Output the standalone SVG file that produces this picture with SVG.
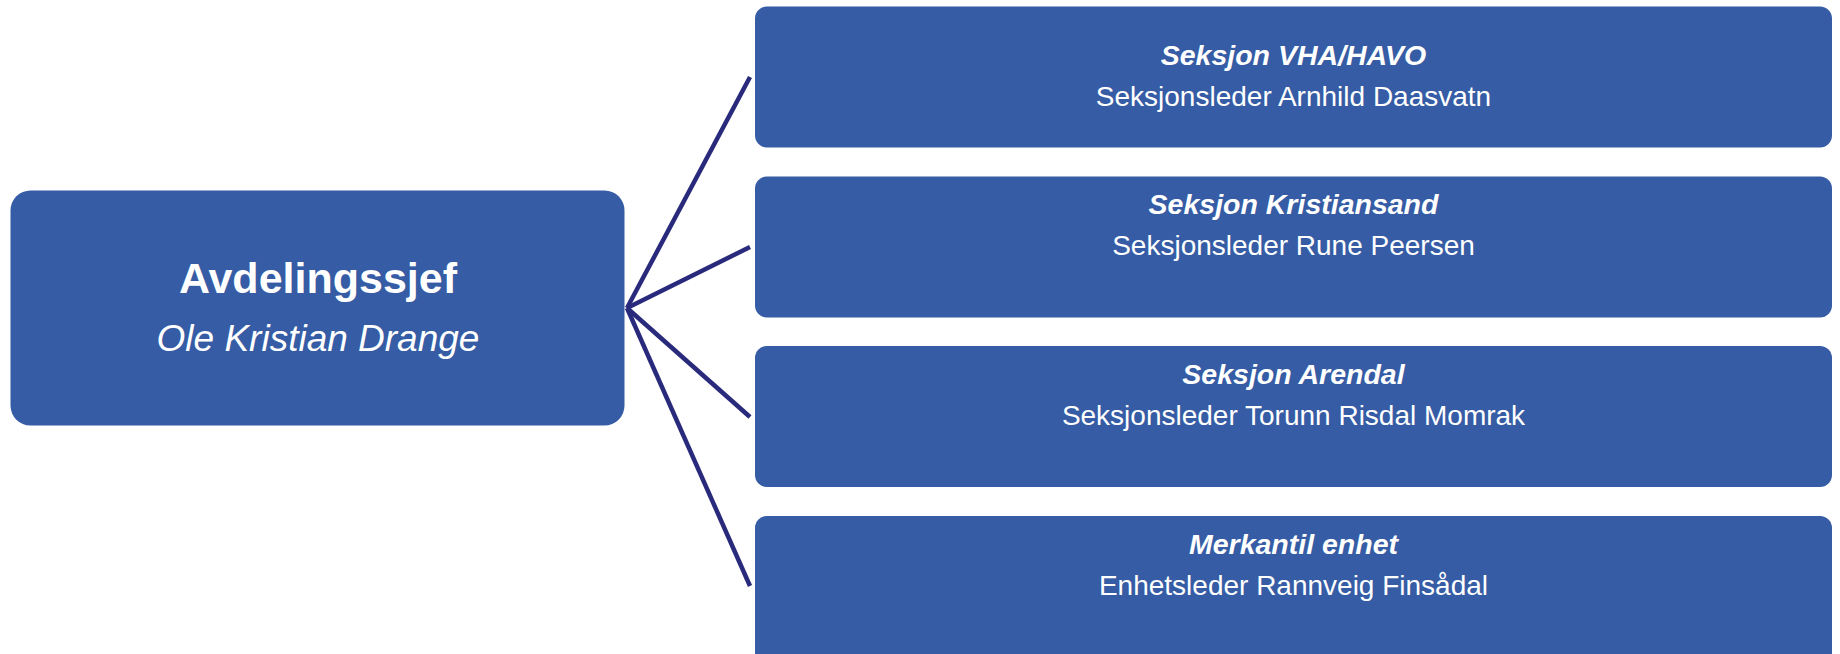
<svg xmlns="http://www.w3.org/2000/svg" width="1840" height="654" viewBox="0 0 1840 654">
<style>
.box{fill:#355CA4;}
.t{fill:#FFFFFF;font-family:"Liberation Sans",Arial,sans-serif;text-anchor:middle;}
.h{font-weight:bold;font-style:italic;font-size:28.5px;}
.s{font-size:28px;}
.conn{stroke:#2A2A7C;stroke-width:4.5;fill:none;stroke-linecap:butt;}
</style>
<rect width="1840" height="654" fill="#FFFFFF"/>
<g id="connectors">
<line class="conn" x1="627" y1="308" x2="750" y2="77"/>
<line class="conn" x1="627" y1="308" x2="750" y2="247"/>
<line class="conn" x1="627" y1="308" x2="750" y2="417"/>
<line class="conn" x1="627" y1="308" x2="750" y2="586"/>
</g>
<g id="node-avdelingssjef">
<rect class="box" x="10.5" y="190.5" width="614" height="235" rx="20" ry="20"/>
<text class="t" x="318" y="293" style="font-weight:bold;font-size:43px">Avdelingssjef</text>
<text class="t" x="318" y="351" style="font-style:italic;font-size:37px">Ole Kristian Drange</text>
</g>
<g id="node-vha-havo">
<rect class="box" x="755" y="6.5" width="1077" height="141" rx="12" ry="12"/>
<text class="t h" x="1293.5" y="65">Seksjon VHA/HAVO</text>
<text class="t s" x="1293.5" y="106">Seksjonsleder Arnhild Daasvatn</text>
</g>
<g id="node-kristiansand">
<rect class="box" x="755" y="176.5" width="1077" height="141" rx="12" ry="12"/>
<text class="t h" x="1293.5" y="214">Seksjon Kristiansand</text>
<text class="t s" x="1293.5" y="255">Seksjonsleder Rune Peersen</text>
</g>
<g id="node-arendal">
<rect class="box" x="755" y="346" width="1077" height="141" rx="12" ry="12"/>
<text class="t h" x="1293.5" y="384">Seksjon Arendal</text>
<text class="t s" x="1293.5" y="425">Seksjonsleder Torunn Risdal Momrak</text>
</g>
<g id="node-merkantil">
<rect class="box" x="755" y="516" width="1077" height="150" rx="12" ry="12"/>
<text class="t h" x="1293.5" y="554">Merkantil enhet</text>
<text class="t s" x="1293.5" y="595">Enhetsleder Rannveig Finsådal</text>
</g>
</svg>
